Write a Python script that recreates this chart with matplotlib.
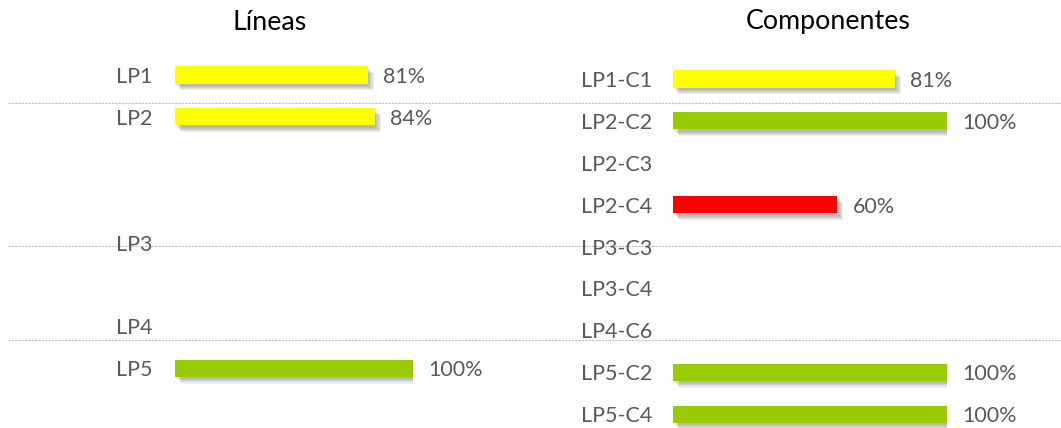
"""Cumplimiento por líneas y componentes."""

import matplotlib.pyplot as plt
from matplotlib import patheffects
from matplotlib.lines import Line2D

plt.rcParams["font.family"] = ["Lato", "DejaVu Sans"]

# left panel: lines, placed on the same 9-row grid as the components
line_names = ["LP1", "LP2", "LP3", "LP4", "LP5"]
line_rows = [0, 1, 4, 6, 7]
line_values = [81, 84, 0, 0, 100]

# right panel: components
comp_names = ["LP1-C1", "LP2-C2", "LP2-C3", "LP2-C4", "LP3-C3",
              "LP3-C4", "LP4-C6", "LP5-C2", "LP5-C4"]
comp_values = [81, 100, 0, 60, 0, 0, 0, 100, 100]

YELLOW, GREEN, RED = "#FFFF00", "#99CC00", "#FF0000"
TEXT = "#595959"
W, H = 1061, 428
ROW = 41.9


def colour(v):
    if v >= 90:
        return GREEN
    if v >= 70:
        return YELLOW
    return RED


def panel(fig, left_px, top_px, width_px, rows, names, values, pad):
    n_rows = 9
    ax = fig.add_axes([left_px / W, 1 - (top_px + n_rows * ROW) / H,
                       width_px / W, n_rows * ROW / H])
    bars = ax.barh(rows, values, height=0.41, color=[colour(v) for v in values])
    # soft drop shadow, built from a few offset layers
    shadow = [patheffects.SimplePatchShadow(offset=(k, -k - 0.6), shadow_rgbFace="#606060", alpha=0.11)
              for k in (4.2, 3.4, 2.6, 1.8, 1.0)]
    for b in bars:
        b.set_path_effects(shadow + [patheffects.Normal()])
    labels = ax.bar_label(bars, labels=[f"{v}%" if v else "" for v in values],
                          padding=11, fontsize=15.5, color=TEXT)
    for t in labels:
        t.set_va("center_baseline")
    ax.set_xlim(0, 100)
    ax.set_ylim(n_rows - 0.5, -0.5)
    ax.set_yticks(rows, names)
    ax.tick_params(axis="y", length=0, pad=pad, labelsize=15.5, labelcolor=TEXT)
    ax.set_xticks([])
    for s in ax.spines.values():
        s.set_visible(False)
    ax.patch.set_alpha(0)
    return ax


fig = plt.figure(figsize=(W / 100, H / 100), dpi=100)

panel(fig, 175, 75 - ROW / 2, 238, line_rows, line_names, line_values, 16.5)
panel(fig, 673, 79 - ROW / 2, 274, list(range(len(comp_names))), comp_names, comp_values, 15)

# dotted separators running across both panels
for y in [103, 246, 340]:
    fig.add_artist(Line2D([8 / W, 1], [1 - y / H] * 2, transform=fig.transFigure,
                          color="#bfbfbf", lw=0.8, ls=(0, (2, 1)), zorder=0))

fig.text(270 / W, 1 - 22 / H, "Líneas", ha="center", va="center", fontsize=19.3, color="#000000")
fig.text(828 / W, 1 - 22 / H, "Componentes", ha="center", va="center", fontsize=19.3, color="#000000")

fig.savefig("out.png", dpi=100)
